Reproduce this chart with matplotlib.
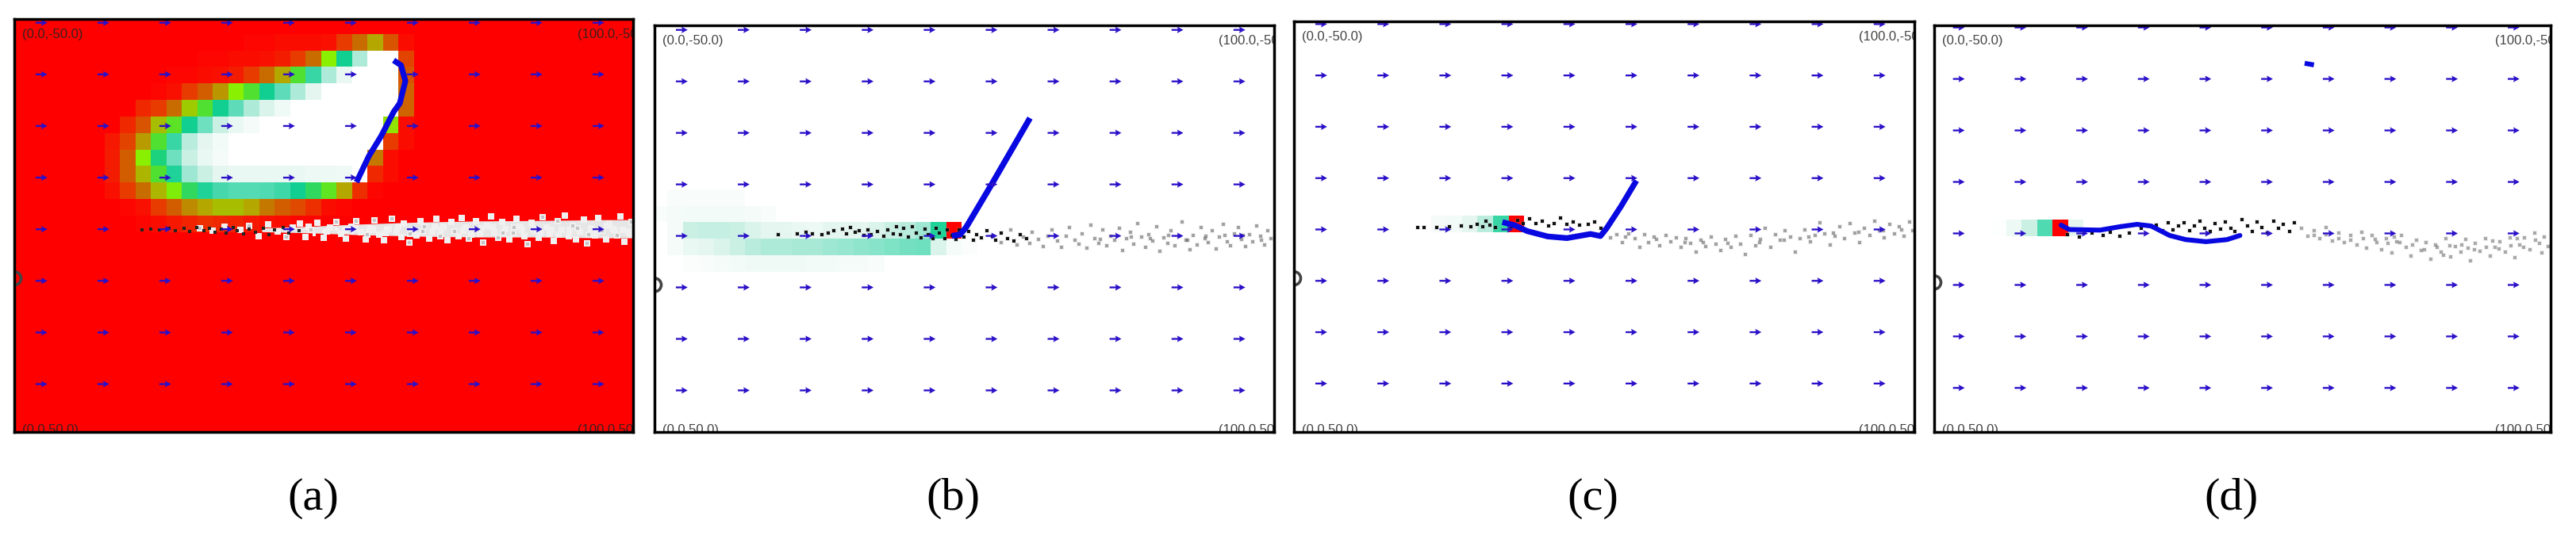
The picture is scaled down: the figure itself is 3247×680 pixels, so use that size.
import matplotlib
matplotlib.use("Agg")
import matplotlib.pyplot as plt
import numpy as np
from matplotlib.colors import LinearSegmentedColormap

# arrows of the flow field, same grid in every panel
arrow_x = [4.4, 14.4, 24.4, 34.4, 44.4, 54.4, 64.4, 74.4, 84.4, 94.4]
arrow_y = [-49.1, -36.6, -24.1, -11.6, 0.9, 13.4, 25.9, 38.4]

panel_names = ["(a)", "(b)", "(c)", "(d)"]
corner_labels = ["(0.0,-50.0)", "(100.0,-50.0)", "(0.0,50.0)", "(100.0,50.0)"]

# heat cells, 0 = red, 1 = white. rows run top to bottom
a_heat = [
    [0, 0, 0, 0, 0, 0, 0, 0, 0, 0.01, 0.01, 0.02, 0.02, 0.02, 0.03, 0.1, 0.2, 0.3, 0.15, 0.02],
    [0, 0, 0, 0, 0, 0, 0.01, 0.01, 0.02, 0.02, 0.03, 0.05, 0.1, 0.2, 0.4, 0.6, 0.8, 1, 1, 0.12],
    [0, 0, 0, 0, 0.01, 0.01, 0.02, 0.03, 0.05, 0.1, 0.2, 0.3, 0.5, 0.65, 0.8, 0.92, 1, 1, 1, 0.15],
    [0, 0, 0, 0.01, 0.03, 0.1, 0.17, 0.27, 0.4, 0.5, 0.6, 0.7, 0.8, 0.9, 1, 1, 1, 1, 1, 0.18],
    [0, 0, 0.07, 0.1, 0.2, 0.35, 0.5, 0.6, 0.7, 0.8, 0.88, 0.94, 1, 1, 1, 1, 1, 1, 1, 0.18],
    [0, 0.07, 0.15, 0.33, 0.48, 0.6, 0.72, 0.85, 0.92, 0.96, 1, 1, 1, 1, 1, 1, 1, 1, 0.38, 0.02],
    [0.04, 0.12, 0.28, 0.5, 0.65, 0.82, 0.9, 0.95, 1, 1, 1, 1, 1, 1, 1, 1, 1, 1, 0.1, 0.02],
    [0.05, 0.17, 0.4, 0.58, 0.72, 0.85, 0.92, 0.96, 1, 1, 1, 1, 1, 1, 1, 1, 1, 0.22, 0.02, 0],
    [0.05, 0.17, 0.32, 0.5, 0.62, 0.78, 0.85, 0.9, 0.92, 0.92, 0.92, 0.92, 0.92, 0.93, 0.93, 0.94, 1, 0.07, 0.02, 0],
    [0.03, 0.1, 0.2, 0.32, 0.42, 0.55, 0.62, 0.67, 0.69, 0.69, 0.68, 0.66, 0.6, 0.55, 0.47, 0.3, 0.08, 0.01, 0, 0],
    [0, 0.01, 0.03, 0.1, 0.17, 0.25, 0.3, 0.33, 0.33, 0.3, 0.22, 0.17, 0.13, 0.08, 0.02, 0.01, 0, 0, 0, 0],
    [0, 0, 0.01, 0.02, 0.04, 0.06, 0.08, 0.07, 0.06, 0.04, 0.03, 0.02, 0.01, 0.01, 0, 0, 0, 0, 0, 0],
]
b_heat = [
    [1, 0.97, 0.97, 0.97, 0.97, 0.97, 1, 1, 1, 1, 1, 1, 1, 1, 1, 1, 1, 1, 1, 1, 1],
    [0.97, 0.96, 0.95, 0.95, 0.95, 0.95, 0.96, 0.97, 1, 1, 1, 1, 1, 1, 1, 1, 1, 1, 1, 1, 1],
    [1, 0.96, 0.85, 0.84, 0.84, 0.85, 0.88, 0.9, 0.9, 0.92, 0.93, 0.9, 0.9, 0.9, 0.88, 0.85, 0.82, 0.78, 0.62, 0, 1],
    [1, 0.96, 0.92, 0.9, 0.88, 0.85, 0.82, 0.8, 0.8, 0.79, 0.79, 0.78, 0.77, 0.76, 0.75, 0.74, 0.73, 0.72, 0.88, 0.96, 0.98],
    [1, 1, 0.98, 0.97, 0.96, 0.95, 0.94, 0.94, 0.94, 0.94, 0.95, 0.95, 0.96, 0.96, 0.97, 1, 1, 1, 1, 1, 1],
]
c_heat = [[0.96, 0.95, 0.9, 0.82, 0.65, 0]]
d_heat = [[0.99, 0.93, 0.85, 0.68, 0, 0.9]]

# drawn trajectories
a_track_x = [61.3, 62.5, 63.2, 62.3, 61.3, 59.3, 57.3, 55.3]
a_track_y = [-40.0, -38.8, -35.0, -29.6, -27.5, -21.7, -16.8, -10.5]
b_track_x = [60.6, 54.6, 50.3, 49.3, 48.0]
b_track_y = [-27.7, -12.1, -1.2, 0.6, 0.9]
c_track_x = [55.2, 52.7, 50.4, 49.4, 47.8, 44.0, 40.9, 37.6, 35.6, 33.6]
c_track_y = [-11.0, -4.7, 0.6, 2.5, 2.0, 3.0, 2.6, 1.3, -0.1, -0.9]
d_track_x = [21.0, 22.3, 27.3, 30.6, 33.3, 35.6, 38.6, 41.2, 44.5, 47.9, 50.0]
d_track_y = [-1.1, -0.05, 0.1, -0.75, -1.3, -0.9, 1.4, 2.4, 2.9, 2.4, 1.4]
d_stub_x = [60.5, 62.0]
d_stub_y = [-40.4, -40.0]

# solid part of the particle band in (a)
a_band_x = [40, 48, 55, 65, 75, 85, 95, 100]
a_band_top = [0.6, 0.2, -0.3, -0.8, -1.1, -1.2, -1.4, -1.4]
a_band_bottom = [1.5, 1.8, 2.2, 2.6, 2.8, 2.8, 3.0, 3.0]

# particles, read as (x, y)
a_dark = [(20.6, 1), (22, 0.8), (23.5, 1.1), (25, 0.6), (26, 1.3), (27.4, 0.7), (28.3, 1.4), (29.5, 0.4),
          (30.6, 1.2), (31.5, 0.6), (32.4, 1.6), (33.5, 0.8), (34.2, 1.9), (35.4, 0.5), (36, 1.3), (37, 2.1),
          (38, 0.9), (39, 1.7), (40.3, 0.7), (41.2, 2.2), (42, 1.1), (43.5, 0.4), (44.4, 1.8), (46, 1.2),
          (47.3, 0.6), (48.5, 2.2), (50, 1.4), (52, 0.8), (54.6, 1.9), (57, 1.2), (60, 0.6)]
a_white = [(30, 0.7), (32, 1.2), (34, 0.2), (36.5, 1), (38, 0.1), (39.5, 2.6), (41, -0.2), (42.5, 1.5), (44, 2.7),
           (45, 0.4), (46.2, -0.5), (47, 2.8), (48, 1), (49, -0.6), (50, 2.9), (51, 0.5), (52, -0.9), (52.8, 2),
           (53.6, 3.1), (54.5, 0.2), (55.2, -1), (56, 1.6), (56.8, 3.4), (57.5, 0.6), (58.2, -1.2), (59, 2.2),
           (59.8, 3.6), (60.5, 0.8), (61, -1.7), (61.8, 1.5), (62.5, 2.8), (63, -0.4), (63.8, 4.2), (64.5, 1),
           (65, 2.4), (65.6, -1.1), (66.3, 0.3), (67, 3.2), (67.6, 1.5), (68.2, -1.6), (68.8, 2.5), (69.4, 0.2),
           (70, 3.6), (70.6, -0.8), (71.2, 1.4), (71.8, 2.6), (72.3, -1.9), (72.9, 0.5), (73.5, 3.1), (74, 1.2),
           (74.6, -1), (75.2, 2.1), (75.8, 4.1), (76.4, 0.1), (77, -2.2), (77.6, 1.6), (78.2, 2.9), (78.8, -0.8),
           (79.4, 0.8), (80, 3.3), (80.6, 1.9), (81.2, -1.6), (81.8, 0.3), (82.4, 2.5), (83, 4.5), (83.6, -0.6),
           (84.2, 1.2), (84.8, 3), (85.4, -2.1), (86, 0.5), (86.6, 2), (87.2, 3.8), (87.8, -1), (88.4, 1),
           (89, -2.4), (89.6, 2.6), (90.2, 0.1), (90.8, 3.4), (91.4, 1.5), (92, -1.5), (92.6, 4.4), (93.2, 0.6),
           (93.8, 2.4), (94.4, -1.9), (95, 1.2), (95.6, 3.3), (96.2, -0.5), (96.8, 0.9), (97.4, 2.4), (98, -2.3),
           (98.6, 4), (99.2, 1.4), (99.8, -0.8), (55, 0.6), (58, 1), (62, 0.2), (66, 1.4), (69, 1), (72.5, 1.2),
           (75.5, 0.7), (79, 1.9), (82, 1.1), (85, 1.8), (88, 2.3), (91, 0.6), (94, 1.6), (97, 1.2), (99.5, 2.3),
           (64, 2), (68, 0.2), (73.8, 2.3), (77.3, 0.5), (80.8, 0.4), (83.8, 0.8), (86.8, 1.1), (89.8, 1),
           (92.8, 2.2), (95.8, 0.1), (98.3, 1.1), (60, 1.9), (57, 2.2), (53.5, 1.1), (50.5, 1.5), (47.5, 0.2)]

b_dark = [(20, 0.5), (23, 0.4), (24.5, 0.1), (25.5, 0.4), (27, 0.6), (28, 0.3), (29, -0.3), (30.3, -0.8), (31, 0.4),
          (31.6, -1.1), (32.4, 0.1), (33, -0.4), (33.8, 0.8), (34.5, -0.6), (35, 0.5), (36, -0.2), (37, 1),
          (37.6, -0.5), (38.5, 0.4), (39, -1.4), (39.7, 0.6), (40.2, -0.9), (41, 1.1), (41.6, -1.3), (42.3, 0.2),
          (43, 1.3), (43.6, -0.8), (44.2, 0.6), (45, 1.5), (45.5, -1), (46, 0.2), (46.8, 1.6), (47.3, -0.5),
          (48, 0.8), (48.6, 1.8), (49.2, -0.6), (50, 1.2), (50.7, -0.2), (51.5, 1.9), (52, 0.5), (52.8, 1.4),
          (53.6, -0.4), (54.5, 1), (55, 2), (56, 0.3), (57, 1.5), (58, 2.2), (59, 0.6), (60, 1.6)]
b_faint = [(56, 2.5), (57.5, -0.5), (58.5, 3.1), (59.5, 1.2), (60.5, 2.7), (61, 0), (62, 1.8), (62.8, 3.4), (63.5, 0.9),
           (64.2, -0.6), (65, 2.2), (65.7, 3.6), (66.5, 1), (67, -1.2), (67.8, 1.9), (68.5, 2.9), (69, 0.4), (69.8, 3.8),
           (70.4, -1.7), (71, 1.5), (71.7, 2.7), (72.3, -0.5), (73, 3.3), (73.6, 1), (74.2, 2), (75, -1), (75.6, 4.4),
           (76.2, 1.6), (76.8, 0), (77.4, 2.9), (78, -2.1), (78.6, 1.2), (79.2, 3.6), (79.8, 0.5), (80.4, 2.1),
           (81, -1.4), (81.6, 4.6), (82.2, 1.4), (82.8, 2.7), (83.4, -0.3), (84, 3.3), (84.6, 1), (85.2, -2.5),
           (85.8, 2), (86.4, 4.2), (87, 0.7), (87.6, 3), (88.2, -1.2), (88.8, 1.6), (89.4, 2.6), (90, -0.4), (90.6, 4),
           (91.2, 1.1), (91.8, -2), (92.4, 2.4), (93, 3.2), (93.6, 0.4), (94.2, -1.2), (94.8, 1.7), (95.4, 3.4),
           (96, 0.6), (96.6, 2.4), (97.2, -1.6), (97.8, 1), (98.4, 3), (99, -0.4), (99.5, 1.6), (72, 1.8), (77, 1.1),
           (80, 1.6), (83, 0.8), (86, 1.9), (89, 1), (92, 0.8), (95, 0.8), (98, 1.9)]

c_dark = [(20, 0.5), (21, 0.5), (23, 0.4), (25, 0.2), (27, 0), (28.5, 0.3), (29.5, -0.4), (30.4, 0.2), (31, -1.2),
          (31.6, -0.2), (32.5, 0.4), (34, -1), (35, 0.2), (36, -1.4), (37, -0.6), (38, -1.8), (39, -0.5), (40, -1.1),
          (41, 0.1), (42, -0.6), (43, -1.9), (44, -0.4), (45, -0.9), (46, -0.1), (47.5, -0.4), (48.5, -0.9), (49.5, 0.6)]
c_faint = [(50, 1.6), (51, 3), (52, 2.2), (53, 4), (54, 1.9), (55, 3.1), (55.8, 5.2), (56.5, 2.2), (57.2, 4), (58, 2.8),
           (59, 4.8), (60, 2.4), (60.8, 3.8), (61.6, 2.9), (62.4, 5.3), (63.2, 3.1), (64, 4.2), (64.8, 6.4), (65.6, 3.5),
           (66.4, 5.1), (67.2, 2.7), (68, 4.4), (68.8, 6), (69.6, 3.4), (70.4, 5.3), (71.2, 2.5), (72, 4.5), (72.8, 7),
           (73.6, 2.4), (74.4, 4.9), (75.2, 3.3), (76, 0.6), (76.8, 5.3), (77.6, 2.2), (78.4, 3.6), (79.2, 1.2),
           (80, 2.8), (80.8, 6.4), (81.6, 3.2), (82.4, 1), (83.2, 3.9), (84, 2.4), (84.8, -0.8), (85.6, 1.9),
           (86.4, 4.6), (87.2, 2.5), (88, 0.3), (88.8, 3.2), (89.6, -0.6), (90.4, 1.8), (91.2, 4.1), (92, 0.6), (92.8, 2.4),
           (93.6, -1.2), (94.4, 1.1), (95.2, 3), (96, -0.4), (96.8, 1.9), (97.6, 0.2), (98.4, 2.6), (99.2, -0.9),
           (99.7, 1.2), (53.5, 2.8), (58.5, 3.4), (63, 4), (66, 4.1), (70, 4.2), (75, 4), (79, 3.6), (83, 2.7),
           (87, 1.8), (91, 1.6), (95, 1.2), (98, 1)]

d_dark = [(22, 1.2), (24, 1.7), (26, 0.9), (27.8, 1.4), (29, 0.6), (30.5, 1.5), (32, 0.8), (34, -0.4), (36.5, -1.2), (37.5, 0.2),
          (38.4, -1.6), (39.2, 0.1), (40, -0.9), (41, -1.7), (41.8, 0.2), (42.6, -1), (43.5, -2), (44.3, -0.4), (45.2, 0.4),
          (46, -1.5), (46.8, -0.2), (47.6, -1.9), (48.5, -0.4), (49.2, 0.5), (50.4, -2.4), (51.2, -0.9), (52, 0.5),
          (52.8, -1.8), (53.6, -0.5), (54.5, 0.8), (55.5, -2), (56.3, -0.4), (57, -1.3), (58, 0.4), (58.8, -1.6)]
d_faint = [(60, -0.4), (61, 1.6), (62, 0.2), (63, 2.1), (64, -0.5), (65, 2.7), (66, 0.9), (67, 3.1), (68, 1.4), (69, 3.6),
           (69.8, 0.6), (70.6, 4.4), (71.4, 1.4), (72.2, 3.1), (73, 4.9), (73.8, 2.1), (74.6, 5.6), (75.4, 3), (76.2, 1.4),
           (77, 4.2), (77.8, 6.3), (78.6, 2.5), (79.4, 5), (80.2, 3.1), (81, 7.2), (81.8, 3.6), (82.6, 5.4), (83.4, 2.1),
           (84.2, 6.6), (85, 4), (85.8, 5.4), (86.6, 2.4), (87.4, 7.6), (88.2, 3.4), (89, 5.3), (89.8, 2.1), (90.6, 6.4),
           (91.4, 4.3), (92.2, 3), (93, 5.5), (93.8, 1.9), (94.6, 6.8), (95.4, 3.6), (96.2, 2), (97, 4.8), (97.8, 0.8),
           (98.6, 3.4), (99.4, 1.8), (100, 4.1), (99, 5.6), (96, 4.2), (94, 3.9), (92, 4.6), (90, 4.2), (88, 4.8), (86, 3.7),
           (84, 3.9), (82, 4.2), (80, 4.8), (78, 3.6), (76, 3.2), (74, 3.4), (72, 2.4), (70, 2.2), (68, 2.6), (66, 2.2),
           (64, 1.2), (62, 1.4), (75, 1.8), (83, 6.2), (87, 4.4), (91, 2.8), (95, 2.2), (98, 2.6)]

# (left, right, top, bottom) of each frame in pixels, x and y range of each
frames_px = [(18, 798, 24, 545), (825, 1606, 32, 545), (1631, 2413, 27, 545), (2438, 3215, 32, 545)]
x_ranges = [(0, 100), (0, 100), (0, 100), (0.4, 100.4)]
y_ranges = [(-50, 50), (-50.2, 48.5), (-49.75, 50.2), (-49.6, 49.1)]
caption_x = [395, 1201, 2008, 2813]

W, H = 3248, 680
cmap = LinearSegmentedColormap.from_list("heat", ["#ff0000", "#e83c00", "#c86c00", "#b4a800", "#88f000", "#50e030",
                                                  "#10cf90", "#5cdcb8", "#aeead8", "#e4f6f0", "#ffffff"])


def draw_heat(ax, rows, first_col, first_row):
    rows = np.array(rows, dtype=float)
    xe = -0.4 + 2.5 * np.arange(first_col, first_col + rows.shape[1] + 1)
    ye = -46.4 + 4.0 * np.arange(first_row, first_row + rows.shape[0] + 1)
    ax.pcolormesh(xe, ye, rows, cmap=cmap, vmin=0, vmax=1, zorder=1)


def draw_cloud(ax, points, color, size, alpha=1.0):
    pts = np.array(points)
    ax.scatter(pts[:, 0], pts[:, 1], s=size, c=color, marker="s", linewidths=0, alpha=alpha, zorder=3)


def draw_smoke(ax, dark, faint, faint_alpha):
    # soft halo first, then the harder specks on top
    draw_cloud(ax, faint, "#888888", 24, 0.14)
    draw_cloud(ax, faint, "#555555", 6, faint_alpha)
    draw_cloud(ax, dark, "#999999", 16, 0.25)
    draw_cloud(ax, dark, "#111111", 6)


fig = plt.figure(figsize=(W / 100, H / 100), dpi=100)
axes = []
for i in range(4):
    l, r, t, b = frames_px[i]
    ax = fig.add_axes([l / W, 1 - b / H, (r - l) / W, (b - t) / H])
    ax.set_xlim(x_ranges[i])
    ax.set_ylim(y_ranges[i][1], y_ranges[i][0])
    ax.set_xticks([])
    ax.set_yticks([])
    for s in ax.spines.values():
        s.set_linewidth(2.5)
        s.set_color("black")
        s.set_zorder(10)
    axes.append(ax)

axes[0].set_facecolor("#ff0000")
draw_heat(axes[0], a_heat, 6, 0)
draw_heat(axes[1], b_heat, 0, 9)
draw_heat(axes[2], c_heat, 9, 11)
draw_heat(axes[3], d_heat, 4, 11)

# particle clouds
axes[0].fill_between(a_band_x, a_band_top, a_band_bottom, color="#e6e6e6", linewidth=0, zorder=2)
draw_cloud(axes[0], a_white, "#f0f0f0", 26)
draw_cloud(axes[0], a_white[::4], "#c4c4c4", 10)
draw_cloud(axes[0], a_dark, "#f4f4f4", 8)
draw_cloud(axes[0], a_dark[:24], "#222222", 5)
draw_smoke(axes[1], b_dark, b_faint, 0.5)
draw_smoke(axes[2], c_dark, c_faint, 0.5)
draw_smoke(axes[3], d_dark, d_faint, 0.45)

# trajectories
axes[0].plot(a_track_x, a_track_y, color="#0808e0", lw=5.2, solid_capstyle="butt", zorder=5)
axes[1].plot(b_track_x, b_track_y, color="#0808e0", lw=5.4, solid_capstyle="butt", zorder=5)
axes[2].plot(c_track_x, c_track_y, color="#0808e0", lw=5.2, solid_capstyle="butt", zorder=5)
axes[3].plot(d_track_x, d_track_y, color="#0808e0", lw=4.4, solid_capstyle="round", zorder=5)
axes[3].plot(d_stub_x, d_stub_y, color="#0808e0", lw=4.4, solid_capstyle="butt", zorder=5)

gx, gy = np.meshgrid(arrow_x, arrow_y)
for i, ax in enumerate(axes):
    ax.quiver(gx, gy, np.full(gx.shape, 1.9), np.zeros(gx.shape), angles="xy", scale_units="xy", scale=1,
              pivot="mid", units="dots", width=2.3, headwidth=3.6, headlength=3.4, headaxislength=3,
              color="#2a10c8", zorder=6)

    # start marker, half hidden by the frame
    x0 = x_ranges[i][0]
    ax.scatter([x0], [12.8], s=150, facecolors="none", edgecolors="#444444", linewidths=2.6, zorder=7)

    # corner coordinates, cut off by the frame like in the screenshots
    txt_color = "#3a2020" if i == 0 else "#444444"
    y0, y1 = y_ranges[i]
    ax.text(x0 + 1.3, y0 + 3.7, corner_labels[0], fontsize=12, family="Liberation Sans", color=txt_color,
            va="center", ha="left", clip_on=True, zorder=8)
    ax.text(x0 + 91, y0 + 3.7, corner_labels[1], fontsize=12, family="Liberation Sans", color=txt_color,
            va="center", ha="left", clip_on=True, zorder=8)
    ax.text(x0 + 1.3, y1 - 0.4, corner_labels[2], fontsize=12, family="Liberation Sans", color=txt_color,
            va="center", ha="left", clip_on=True, zorder=8)
    ax.text(x0 + 91, y1 - 0.4, corner_labels[3], fontsize=12, family="Liberation Sans", color=txt_color,
            va="center", ha="left", clip_on=True, zorder=8)

    fig.text(caption_x[i] / W, 1 - 629 / H, panel_names[i], fontsize=42, family="Liberation Serif",
             ha="center", va="center", color="black")

fig.savefig("out.png", dpi=100)
